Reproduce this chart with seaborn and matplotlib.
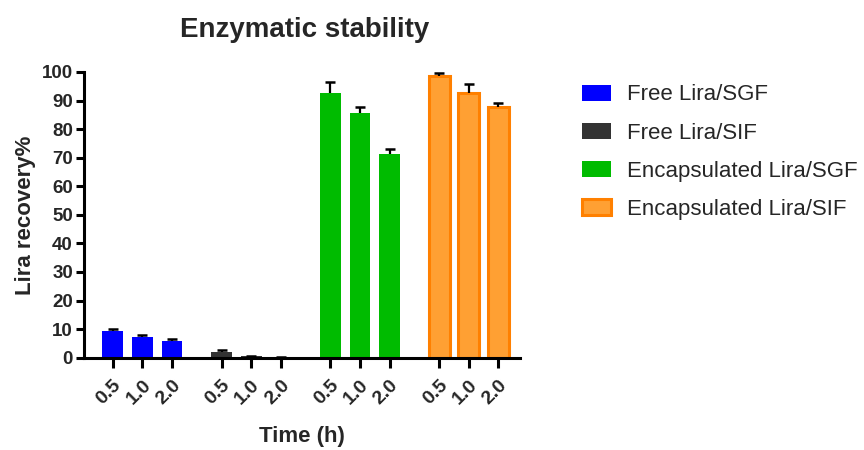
import numpy as np
import pandas as pd
import matplotlib
matplotlib.use("Agg")
import matplotlib.pyplot as plt
from matplotlib.patches import Patch
from matplotlib.container import BarContainer
import seaborn as sns

# ---- data ----
groups = ["Free Lira/SGF", "Free Lira/SIF", "Encapsulated Lira/SGF", "Encapsulated Lira/SIF"]
times = ["0.5", "1.0", "2.0"]
free_sgf = [9.3, 7.1, 5.9]
free_sgf_err = [0.8, 1.0, 0.5]
free_sif = [2.0, 0.5, 0.1]
free_sif_err = [0.6, 0.2, 0.1]
enc_sgf = [92.5, 85.5, 71.3]
enc_sgf_err = [4.1, 2.4, 1.6]
enc_sif = [98.5, 92.7, 87.6]
enc_sif_err = [1.3, 3.0, 1.4]

face_colors = ["#0000FF", "#333333", "#00BB00", "#FFA033"]
edge_colors = ["#0000FF", "#333333", "#00BB00", "#FF8000"]

values = [free_sgf, free_sif, enc_sgf, enc_sif]
errors = [free_sgf_err, free_sif_err, enc_sgf_err, enc_sif_err]

rows = []
for g, vals, errs in zip(groups, values, errors):
    for t, v, e in zip(times, vals, errs):
        rows.append({"group": g, "time": t, "value": v, "err": e})
df = pd.DataFrame(rows)

sns.set_style("ticks")
plt.rcParams["font.family"] = ["Liberation Sans", "DejaVu Sans"]

fig = plt.figure(figsize=(8.64, 4.5), dpi=100)
ax = fig.add_axes([84 / 864, 1 - 357.7 / 450, (520 - 84) / 864, (357.7 - 72) / 450])

sns.barplot(data=df, x="group", y="value", hue="time", order=groups, hue_order=times,
            dodge=True, width=0.817, gap=0.3, errorbar=None, legend=False, ax=ax,
            saturation=1)

bar_containers = [c for c in ax.containers if isinstance(c, BarContainer)]
centers = []
labels = []
for ti, cont in enumerate(bar_containers):
    for bar in cont.patches:
        cx = bar.get_x() + bar.get_width() / 2
        gi = int(round(cx))
        bar.set_facecolor(face_colors[gi])
        bar.set_edgecolor(edge_colors[gi])
        bar.set_linewidth(2.2 if gi == 3 else 0)
        h = bar.get_height()
        e = errors[gi][ti]
        _, caps, _ = ax.errorbar(cx, h, yerr=[[0], [e]], fmt="none", ecolor="black",
                                 elinewidth=1.6, capsize=3.6, capthick=1.8, zorder=3)
        # keep only the upper cap
        for cap in caps:
            if np.allclose(cap.get_ydata(), h):
                cap.set_visible(False)
        centers.append(cx)
        labels.append(times[ti])

order = np.argsort(centers)
ax.set_xticks([centers[i] for i in order])
ax.set_xticklabels([labels[i] for i in order], rotation=45, ha="right", va="top",
                   rotation_mode="anchor", fontsize=14, fontweight="bold")

ax.set_xlim(-0.536, 3.47)
ax.set_ylim(0, 100)
ax.set_yticks(np.arange(0, 101, 10))
for lab in ax.get_yticklabels():
    lab.set_fontsize(13.5)
    lab.set_fontweight("bold")

sns.despine(ax=ax)
for sp in ["left", "bottom"]:
    ax.spines[sp].set_linewidth(2.2)
    ax.spines[sp].set_color("black")
ax.tick_params(axis="both", which="major", width=2.2, color="black", length=6, pad=2)
ax.tick_params(axis="x", length=7, pad=6.5)

ax.set_xlabel("Time (h)", fontsize=16, fontweight="bold", labelpad=13)
ax.set_ylabel("Lira recovery%", fontsize=16, fontweight="bold", labelpad=4)

fig.text(305 / 864, 1 - 37 / 450, "Enzymatic stability", ha="center", va="baseline",
         fontsize=20, fontweight="bold")

handles = [Patch(facecolor=fc, edgecolor=ec, linewidth=(2.2 if i == 3 else 0))
           for i, (fc, ec) in enumerate(zip(face_colors, edge_colors))]
fig.legend(handles, groups, loc="upper left", bbox_to_anchor=(581.7 / 864, 1 - 84.5 / 450),
           frameon=False, fontsize=16, handlelength=1.3, handleheight=0.75,
           handletextpad=0.72, labelspacing=0.77, borderpad=0, borderaxespad=0)

fig.savefig("out.png", dpi=100)
